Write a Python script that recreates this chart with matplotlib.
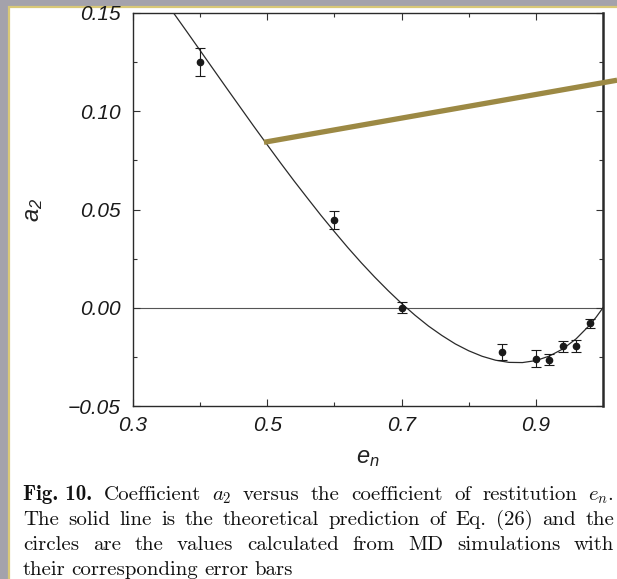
import matplotlib
matplotlib.use("Agg")
import matplotlib.pyplot as plt
from matplotlib.patches import Rectangle
from matplotlib.ticker import MultipleLocator

plt.rcParams['font.family'] = ['Liberation Sans', 'DejaVu Sans']
plt.rcParams['mathtext.fontset'] = 'custom'
plt.rcParams['mathtext.it'] = 'Liberation Sans:italic'
plt.rcParams['mathtext.rm'] = 'Liberation Sans:italic'

# MD simulation points
en_md = [0.40, 0.60, 0.70, 0.85, 0.90, 0.92, 0.94, 0.96, 0.98]
a2_md = [0.125, 0.0445, 0.0, -0.0224, -0.0259, -0.0265, -0.0195, -0.0194, -0.0080]
a2_err = [0.0072, 0.0046, 0.0028, 0.0040, 0.0042, 0.0028, 0.0028, 0.0030, 0.0021]

# theoretical curve
en_th = [0.36, 0.38, 0.40, 0.42, 0.44, 0.46, 0.48, 0.50, 0.52, 0.54, 0.56,
         0.58, 0.60, 0.62, 0.64, 0.66, 0.68, 0.70, 0.72, 0.74, 0.76, 0.78,
         0.80, 0.82, 0.84, 0.86, 0.88, 0.90, 0.92, 0.94, 0.96, 0.98, 0.99, 1.00]
a2_th = [0.1502, 0.1406, 0.1309, 0.1212, 0.1115, 0.1019, 0.0923, 0.0829,
         0.0736, 0.0645, 0.0557, 0.0470, 0.0387, 0.0306, 0.0229, 0.0156,
         0.0087, 0.0022, -0.0038, -0.0093, -0.0141, -0.0184, -0.0219,
         -0.0247, -0.0267, -0.0278, -0.0279, -0.0269, -0.0246, -0.0210,
         -0.0158, -0.0089, -0.0047, 0.0]

# olive pointer line drawn over the slide
pointer_x = [0.495, 1.021]
pointer_y = [0.0842, 0.1158]

xticks = [0.3, 0.5, 0.7, 0.9]
xlabels = ['0.3', '0.5', '0.7', '0.9']
yticks = [-0.05, 0.0, 0.05, 0.10, 0.15]
ylabels = ['\u22120.05', '0.00', '0.05', '0.10', '0.15']

caption = [
    ['Fig. 10.', 'Coefficient', '$a_2$', 'versus', 'the',
     'coefficient', 'of', 'restitution', '$e_n$.'],
    ['The', 'solid', 'line', 'is', 'the', 'theoretical', 'prediction', 'of',
     'Eq.', '(26)', 'and', 'the'],
    ['circles', 'are', 'the', 'values', 'calculated', 'from', 'MD',
     'simulations', 'with'],
    ['their', 'corresponding', 'error', 'bars'],
]

W, H = 617, 579
fig = plt.figure(figsize=(W / 100, H / 100), dpi=100)
fig.patch.set_facecolor('#a4a2ab')
fig.patches.append(Rectangle((8.5 / W, -0.05), 1.1, 1 - 6.5 / H + 0.05,
                             transform=fig.transFigure, facecolor='white',
                             edgecolor='#d9c877', linewidth=1.6, zorder=-10))

ax = fig.add_axes([133 / W, 1 - 406 / H, 470 / W, 393 / H])
ax.set_facecolor('none')

ax.axhline(0, color='#555555', linewidth=0.8, zorder=1)
ax.plot(en_th, a2_th, color='#2a2a2a', linewidth=0.9, zorder=2)
ax.errorbar(en_md, a2_md, yerr=a2_err, fmt='o', color='#1a1a1a',
            markersize=4.5, capsize=3.6, elinewidth=0.8, capthick=0.8, zorder=3)
ax.plot(pointer_x, pointer_y, color='#9c8944', linewidth=3.8,
        solid_capstyle='butt', clip_on=False, zorder=4)

ax.set_xlim(0.3, 1.0)
ax.set_ylim(-0.05, 0.15)
ax.set_xticks(xticks, labels=xlabels, fontstyle='italic', fontsize=15)
ax.set_yticks(yticks, labels=ylabels, fontstyle='italic', fontsize=15)
ax.xaxis.set_minor_locator(MultipleLocator(0.1))
ax.yaxis.set_minor_locator(MultipleLocator(0.025))
ax.tick_params(which='both', direction='in', top=True, right=True,
               color='#333333', labelcolor='#1a1a1a')
ax.tick_params(which='major', length=5, width=0.8)
ax.tick_params(which='minor', length=3, width=0.8)
ax.tick_params(axis='y', which='major', pad=9)
ax.tick_params(axis='x', which='major', pad=7)
for side, s in ax.spines.items():
    s.set_color('#2a2a2a')
    s.set_linewidth(1.0)
ax.spines['right'].set_linewidth(1.8)

ax.set_xlabel('$e_n$', fontsize=17, color='#222222', labelpad=9)
ax.set_ylabel('$a_2$', fontsize=17, color='#222222', labelpad=16)

# justified caption
fig.canvas.draw()
renderer = fig.canvas.get_renderer()
left, right = 23, 614
baselines = [500, 525, 550, 575]
for i, words in enumerate(caption):
    texts = []
    for w in words:
        fam = 'cmb10' if w.startswith('Fig') else 'cmr10'
        texts.append(fig.text(0, 0, w, family=fam, math_fontfamily='cm',
                              fontsize=15, color='#111111', va='baseline'))
    widths = [t.get_window_extent(renderer).width for t in texts]
    if i < len(caption) - 1:
        gap = (right - left - sum(widths)) / (len(words) - 1)
    else:
        gap = 6
    x = left
    for t, w in zip(texts, widths):
        t.set_position((x / W, 1 - baselines[i] / H))
        x += w + gap

fig.savefig('out.png', dpi=100, facecolor=fig.get_facecolor())
